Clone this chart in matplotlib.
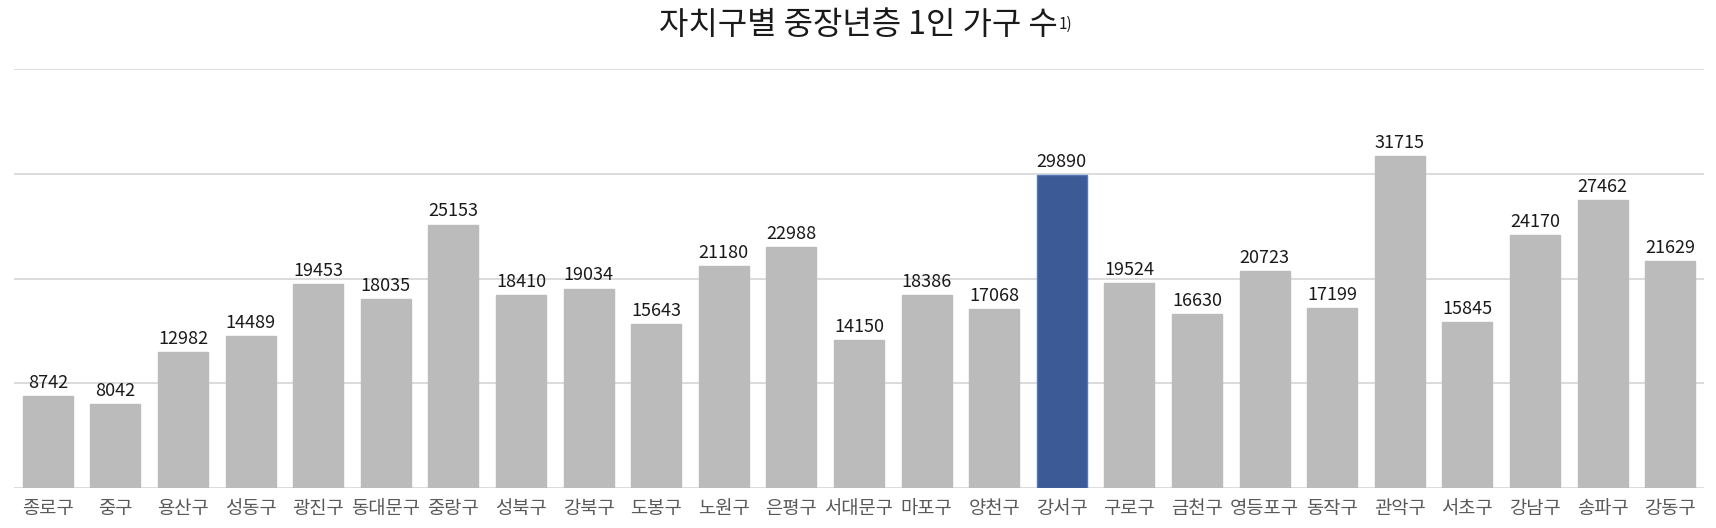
import matplotlib
matplotlib.use("Agg")
import matplotlib.pyplot as plt

plt.rcParams['font.family'] = ['Noto Sans CJK KR', 'DejaVu Sans']

districts = ["종로구", "중구", "용산구", "성동구", "광진구", "동대문구", "중랑구", "성북구", "강북구", "도봉구",
             "노원구", "은평구", "서대문구", "마포구", "양천구", "강서구", "구로구", "금천구", "영등포구", "동작구",
             "관악구", "서초구", "강남구", "송파구", "강동구"]
values = [8742, 8042, 12982, 14489, 19453, 18035, 25153, 18410, 19034, 15643,
          21180, 22988, 14150, 18386, 17068, 29890, 19524, 16630, 20723, 17199,
          31715, 15845, 24170, 27462, 21629]
highlight = "강서구"
title = "자치구별 중장년층 1인 가구 수"
title_note = "1)"

fig = plt.figure(figsize=(17.16, 5.28), dpi=100)
ax = fig.add_axes([14/1716, 1-488/528, (1704-14)/1716, (488-69)/528])

x = list(range(len(districts)))
colors = ["#3C5A96" if d == highlight else "#BBBBBB" for d in districts]
edges = ["#5577BB" if d == highlight else "#BBBBBB" for d in districts]
bars = ax.bar(x, values, width=0.74, color=colors, edgecolor=edges, linewidth=1, zorder=3)

for xi, v in zip(x, values):
    ax.annotate(f"{v}", (xi, v), xytext=(0, 3), textcoords="offset points",
                ha="center", va="bottom", fontsize=13, color="#1a1a1a", zorder=4)

ax.set_xlim(-0.5, len(districts)-0.5)
ax.set_ylim(0, 40000)
ax.set_yticks([0, 10000, 20000, 30000, 40000])
ax.yaxis.grid(True, color="#D9D9D9", linewidth=1.3, zorder=0)
ax.set_axisbelow(True)
ax.tick_params(axis='y', left=False, labelleft=False)
ax.tick_params(axis='x', length=0, pad=7)
ax.set_xticks(x)
ax.set_xticklabels(districts, fontsize=13.5, color="#595959")
for s in ax.spines.values():
    s.set_visible(False)

t = fig.text(0.5, 1-25/528, title, ha="center", va="center", fontsize=23, color="#1a1a1a")
fig.canvas.draw()
bb = t.get_window_extent()
fig.text((bb.x1 + 1) / fig.bbox.width, (bb.y0 + bb.height*0.25) / fig.bbox.height, title_note,
         ha="left", va="bottom", fontsize=11, color="#1a1a1a")

fig.savefig("out.png", dpi=100, facecolor="white")
